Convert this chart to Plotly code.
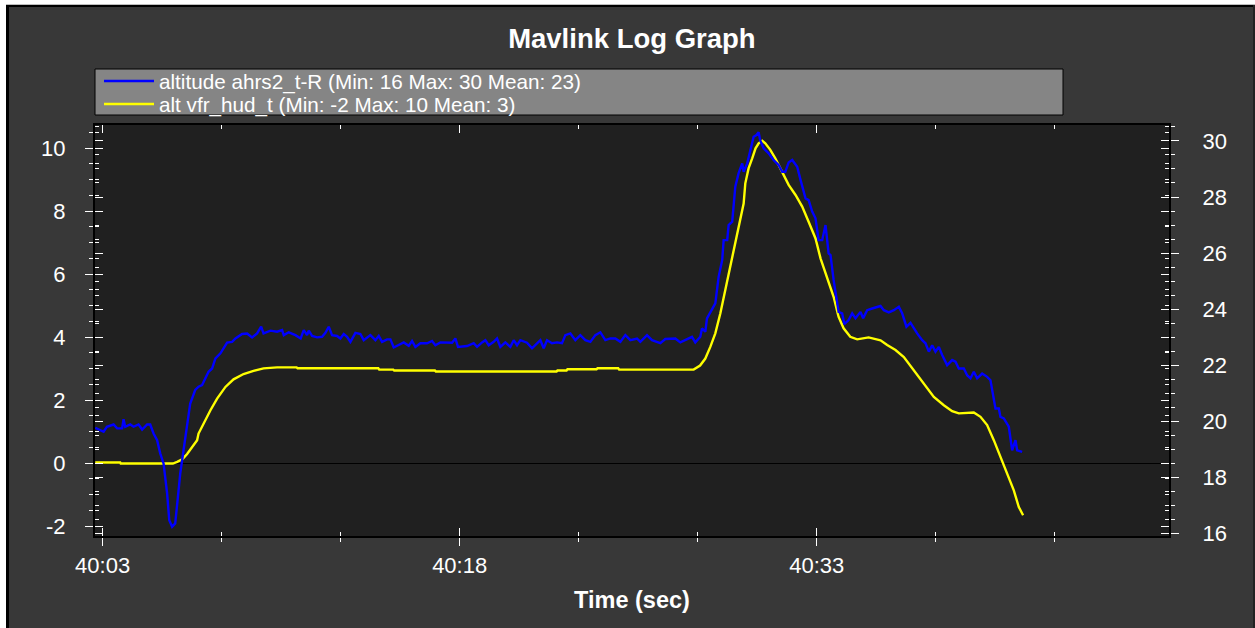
import plotly.graph_objects as go

# ---- data -------------------------------------------------------------
# seconds after 40:03
ahrs2_t = [
    -0.31, 0.04, 0.18, 0.46, 0.61, 0.82, 0.88, 0.95, 1.16, 1.30, 1.51, 1.66, 1.87, 2.00,
    2.14, 2.29, 2.42, 2.56, 2.71, 2.80, 2.92, 3.05, 3.15, 3.26, 3.40, 3.55, 3.68, 3.89,
    4.03, 4.18, 4.32, 4.45, 4.60, 4.74, 4.95, 5.08, 5.23, 5.44, 5.58, 5.86, 6.07, 6.28,
    6.49, 6.66, 6.76, 7.05, 7.33, 7.54, 7.61, 7.82,
    8.10, 8.32, 8.45, 8.59, 8.66, 8.80, 9.01, 9.22, 9.36, 9.50, 9.64, 9.85, 9.99, 10.13,
    10.27, 10.41, 10.62, 10.83, 10.97, 11.25, 11.46, 11.60, 11.74, 11.95, 12.09, 12.23,
    12.44, 12.65, 12.86, 13.00, 13.14, 13.35, 13.63, 13.84, 13.98, 14.19, 14.68, 14.82,
    14.93, 15.31, 15.59, 15.73, 15.94, 16.08, 16.22, 16.43, 16.57, 16.71, 16.92, 17.13,
    17.27, 17.41, 17.55, 17.83, 18.04, 18.25, 18.39, 18.53, 18.67, 18.88, 19.09, 19.30,
    19.44, 19.65, 19.86, 20.07, 20.28, 20.49, 20.70, 20.91, 21.12, 21.33, 21.54, 21.75,
    21.96, 22.17, 22.45, 22.59, 22.87, 23.08, 23.43, 23.64, 24.06, 24.27, 24.48, 24.76,
    24.90,
    25.11, 25.18, 25.32, 25.39, 25.53, 25.74, 25.88, 26.03, 26.09, 26.24, 26.30, 26.45,
    26.58, 26.72, 26.87, 26.93, 27.08, 27.21, 27.35, 27.47, 27.56, 27.63, 27.77, 27.98,
    28.19, 28.40, 28.55, 28.68, 28.82, 28.97, 29.18, 29.32, 29.53, 29.66, 29.81, 29.95,
    30.08, 30.23, 30.37, 30.50, 30.58, 30.71, 30.92, 31.07, 31.16, 31.34, 31.49, 31.63,
    31.84, 31.95, 32.12, 32.33, 32.68,
    32.82, 33.03, 33.24, 33.45, 33.59, 33.77, 33.94, 34.08, 34.22, 34.43, 34.57, 34.71,
    34.85, 34.99, 35.13, 35.27, 35.48, 35.69, 35.83, 35.97, 36.18, 36.32, 36.46, 36.60,
    36.74, 36.95, 37.16, 37.30, 37.44, 37.51, 37.65, 37.72, 37.86, 38.07, 38.21, 38.35,
    38.42, 38.63,
]
ahrs2_alt = [
    19.76, 19.62, 19.80, 19.88, 19.74, 19.74, 20.07, 19.80, 19.88, 19.80, 19.88, 19.70, 19.88, 19.88,
    19.56, 19.32, 18.85, 18.49, 17.42, 16.46, 16.23, 16.35, 17.18, 18.13, 18.96, 19.92, 20.63, 21.11,
    21.23, 21.29, 21.53, 21.76, 21.88, 22.24, 22.42, 22.60, 22.80, 22.83, 22.95, 23.11, 23.13, 22.99,
    23.13, 23.37, 23.13, 23.23, 23.19, 23.25, 23.07, 23.17,
    23.07, 22.95, 23.25, 23.07, 23.23, 23.04, 22.99, 23.01, 23.15, 23.37, 23.07, 23.04, 22.95, 23.11,
    23.01, 22.83, 23.15, 23.11, 22.89, 23.07, 22.89, 23.04, 22.83, 22.92, 22.92, 22.63,
    22.71, 22.81, 22.69, 22.86, 22.65, 22.78, 22.78, 22.86, 22.71, 22.81, 22.80, 22.95,
    22.65, 22.68, 22.78, 22.65, 22.81, 22.89, 22.71, 22.83, 22.95, 22.65, 22.81, 22.65,
    22.89, 22.71, 22.89, 22.80, 22.60, 22.78, 22.89, 22.60, 22.89, 22.78, 22.81, 22.78,
    23.07, 23.13, 22.89, 23.07, 22.89, 22.83, 23.07, 23.17, 22.89, 22.95, 22.95, 22.83,
    23.07, 22.89, 22.95, 22.83, 23.07, 22.89, 22.78, 22.93, 22.95, 22.81, 22.89, 23.01,
    22.81,
    23.01, 23.31, 23.19, 23.67, 23.90, 24.20, 25.15, 25.75, 26.46, 26.46, 27.00, 27.12,
    28.37, 28.85, 29.20, 28.90, 29.20, 29.68, 30.15, 30.21, 30.31, 30.01, 29.74, 29.56,
    29.32, 29.14, 28.90, 28.90, 29.23, 29.32, 29.08, 28.61, 27.95, 27.89, 27.48, 27.24,
    26.46, 26.46, 27.00, 25.99, 25.93, 25.04, 23.90, 23.85, 23.46, 23.61, 23.85, 23.67,
    23.90, 23.67, 23.96, 24.02, 24.11,
    23.96, 23.88, 23.96, 24.08, 23.85, 23.37, 23.51, 23.31, 23.13, 22.89, 22.78, 22.48,
    22.71, 22.48, 22.65, 22.36, 22.00, 22.18, 22.12, 21.88, 21.88, 21.64, 21.53, 21.76,
    21.53, 21.70, 21.58, 21.46, 20.75, 20.45, 20.45, 20.15, 20.10, 19.80, 18.96, 19.32,
    18.96, 18.90,
]

vfr_t = [
    -0.31, 0.74, 0.76, 2.95, 3.13, 3.34, 3.55, 3.76, 3.97, 4.03, 4.24, 4.53, 4.81, 5.16,
    5.50, 5.92, 6.34, 6.76, 7.33, 8.15, 8.19, 11.58, 11.62, 12.21, 12.25, 13.96, 14.00,
    19.07, 19.11, 19.49, 19.53, 20.75, 20.79, 21.66, 21.70, 24.83, 25.10, 25.32, 25.53,
    25.74, 25.95, 26.16, 26.37, 26.58, 26.79, 26.93, 27.00, 27.14, 27.29, 27.43, 27.56,
    27.71, 27.84, 28.05, 28.26, 28.47, 28.68, 28.82, 29.11, 29.39, 29.66, 29.95, 30.16,
    30.44, 30.71, 30.92, 31.13, 31.41, 31.70, 32.18, 32.54, 32.68, 32.96, 33.31, 33.66,
    34.08, 34.50, 34.92, 35.34, 35.69, 35.97, 36.60, 36.88, 37.16, 37.44, 37.72, 38.00,
    38.28, 38.49, 38.67,
]
vfr_alt = [
    0.02, 0.02, -0.01, -0.01, 0.04, 0.12, 0.29, 0.52, 0.73, 0.94, 1.26, 1.68, 2.05, 2.42,
    2.66, 2.83, 2.93, 3.01, 3.04, 3.04, 3.01, 3.01, 2.97, 2.97, 2.94, 2.94, 2.91,
    2.91, 2.94, 2.94, 2.98, 2.98, 3.01, 3.01, 2.97, 2.97, 3.10, 3.32, 3.69,
    4.12, 4.75, 5.49, 6.23, 7.08, 7.82, 8.24, 8.88, 9.36, 9.67, 9.99, 10.15,
    10.23, 10.15, 9.94, 9.67, 9.36, 9.04, 8.83, 8.51, 8.14, 7.66, 7.13, 6.50,
    5.91, 5.28, 4.64, 4.28, 4.01, 3.93, 3.99, 3.94, 3.90, 3.75, 3.59, 3.37,
    2.95, 2.53, 2.10, 1.84, 1.65, 1.58, 1.61, 1.47, 1.21, 0.73, 0.20, -0.38,
    -0.86, -1.39, -1.65,
]

series_names = [
    "altitude ahrs2_t-R (Min: 16 Max: 30 Mean: 23)",
    "alt vfr_hud_t (Min: -2 Max: 10 Mean: 3)",
]
x_tick_vals = [0, 15, 30]
x_tick_text = ["40:03", "40:18", "40:33"]
yl_tick_vals = [-2, 0, 2, 4, 6, 8, 10]
yl_tick_text = ["-2", "0", "2", "4", "6", "8", "10"]
yr_tick_vals = [16, 18, 20, 22, 24, 26, 28, 30]
yr_tick_text = ["16", "18", "20", "22", "24", "26", "28", "30"]

# ---- geometry ---------------------------------------------------------
W, H = 1255, 628
ML, MR, MT, MB = 95, 66, 125, 92     # right margin leaves room for the offset Y2 labels
PLOT_RIGHT = 1169                     # right edge of the plotting area (px)
PW, PH = W - ML - MR, H - MT - MB


def px(x):
    return (x - ML) / PW


def py(y):
    return (H - MB - y) / PH


X_DOMAIN = [0, px(PLOT_RIGHT)]

FONT = "Liberation Sans, Arial, sans-serif"
TICK_FONT = dict(family=FONT, size=22, color="white")
LEGEND_FONT = dict(family=FONT, size=20.7, color="white")
X_RANGE = [-0.32, 44.8]
YL_RANGE = [-2.31, 10.73]
YR_RANGE = [15.90, 30.57]

fig = go.Figure()
fig.add_trace(go.Scatter(
    x=ahrs2_t, y=ahrs2_alt, name=series_names[0], mode="lines",
    line=dict(color="#0000ff", width=2.4), yaxis="y2", legend="legend",
))
fig.add_trace(go.Scatter(
    x=vfr_t, y=vfr_alt, name=series_names[1], mode="lines",
    line=dict(color="#ffff00", width=2.4), yaxis="y", legend="legend2",
))

# empty carriers so the tick-only overlay axes get drawn
for xa, ya in [("x2", "y"), ("x", "y3"), ("x", "y4"), ("x", "y5")]:
    fig.add_trace(go.Scatter(x=[], y=[], xaxis=xa, yaxis=ya, mode="lines",
                             showlegend=False, hoverinfo="skip"))

common = dict(showgrid=False, tickcolor="white", tickwidth=1,
              linecolor="black", linewidth=2, showline=True)

legend_common = dict(xanchor="left", yanchor="top", bgcolor="rgba(0,0,0,0)",
                     borderwidth=0, font=LEGEND_FONT, itemwidth=50)


def minor(kind, step):
    return dict(dtick=step, tick0=0, ticks=kind, ticklen=4, tickcolor="white")


fig.update_layout(
    width=W, height=H,
    margin=dict(l=ML, r=MR, t=MT, b=MB, pad=0),
    paper_bgcolor="#383838",
    plot_bgcolor="#202020",
    showlegend=True,
    title=dict(
        text="<b>Mavlink Log Graph</b>",
        x=0.5035, xanchor="center", y=1 - 38 / H, yanchor="middle",
        font=dict(family=FONT, size=27.5, color="white"),
    ),
    legend=dict(x=px(99), y=py(61), **legend_common),
    legend2=dict(x=px(99), y=py(84), **legend_common),
    xaxis=dict(
        domain=X_DOMAIN, range=X_RANGE, tickmode="array", tickvals=x_tick_vals,
        ticktext=x_tick_text, ticks="outside", ticklen=8, tickfont=TICK_FONT,
        ticklabelstandoff=1, minor=minor("outside", 5),
        title=dict(text="<b>Time (sec)</b>", font=dict(family=FONT, size=23.5, color="white"),
                   standoff=14),
        zeroline=False, **common,
    ),
    xaxis2=dict(
        domain=X_DOMAIN, range=X_RANGE, overlaying="x", anchor="y", tickmode="array",
        tickvals=x_tick_vals, ticks="inside", ticklen=8, mirror="ticks",
        showticklabels=False, minor=minor("inside", 5), zeroline=False, **common,
    ),
    # left scale (vfr_hud altitude)
    yaxis=dict(
        range=YL_RANGE, tickmode="array", tickvals=yl_tick_vals, ticktext=yl_tick_text,
        ticks="outside", ticklen=8, tickfont=TICK_FONT, ticklabelstandoff=15,
        minor=minor("outside", 0.5),
        zeroline=True, zerolinecolor="black", zerolinewidth=1, **common,
    ),
    yaxis3=dict(
        range=YL_RANGE, overlaying="y", side="left", dtick=2, tick0=0,
        ticks="inside", ticklen=8, mirror="ticks", showticklabels=False,
        minor=minor("inside", 0.5), zeroline=False, **common,
    ),
    # right scale (ahrs2 altitude): labels sit on a free axis just right of the frame
    yaxis2=dict(
        range=YR_RANGE, overlaying="y", side="right", anchor="free", position=1.0,
        tickmode="array", tickvals=yr_tick_vals, ticktext=yr_tick_text,
        ticks="outside", ticklen=8, tickcolor="rgba(0,0,0,0)", tickfont=TICK_FONT,
        showgrid=False, showline=False, zeroline=False,
    ),
    yaxis4=dict(
        range=YR_RANGE, overlaying="y", side="right", anchor="x", dtick=2, tick0=0,
        ticks="inside", ticklen=8, mirror="ticks", showticklabels=False,
        minor=minor("inside", 0.5), zeroline=False, **common,
    ),
    yaxis5=dict(
        range=YR_RANGE, overlaying="y", side="right", anchor="x", dtick=2, tick0=0,
        ticks="outside", ticklen=8, showticklabels=False,
        minor=minor("outside", 0.5), zeroline=False, **common,
    ),
)

# window frame and legend panel
shapes = [
    dict(type="rect", xref="paper", yref="paper", x0=px(-5), x1=px(W + 5), y0=py(4), y1=py(-5),
         fillcolor="white", line=dict(width=0), layer="above"),
    dict(type="rect", xref="paper", yref="paper", x0=px(-5), x1=px(6), y0=py(H + 5), y1=py(-5),
         fillcolor="white", line=dict(width=0), layer="above"),
    dict(type="line", xref="paper", yref="paper", x0=px(6), x1=px(W), y0=py(4.5), y1=py(4.5),
         line=dict(color="#bdbdbd", width=1), layer="above"),
    dict(type="line", xref="paper", yref="paper", x0=px(6), x1=px(W), y0=py(6), y1=py(6),
         line=dict(color="black", width=2), layer="above"),
    dict(type="line", xref="paper", yref="paper", x0=px(7.5), x1=px(7.5), y0=py(5), y1=py(H),
         line=dict(color="black", width=3), layer="above"),
    dict(type="line", xref="paper", yref="paper", x0=px(W - 1), x1=px(W - 1), y0=py(5), y1=py(H),
         line=dict(color="#222222", width=2), layer="above"),
    dict(type="rect", xref="paper", yref="paper", x0=px(95), x1=px(1063), y0=py(115), y1=py(69),
         fillcolor="#858585", line=dict(color="black", width=1), layer="below"),
]
fig.update_layout(shapes=shapes)

fig.write_html("out.html")
